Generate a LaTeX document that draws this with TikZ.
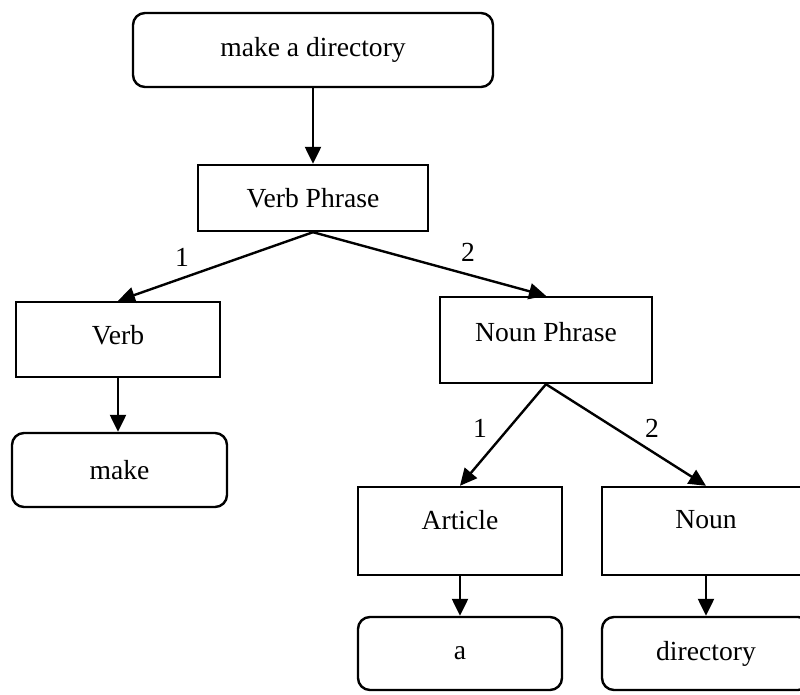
\documentclass[tikz,border=0pt]{standalone}
\usepackage{fontspec}
\setmainfont{Liberation Serif}
\usetikzlibrary{arrows.meta}
\begin{document}
\begin{tikzpicture}[x=0.5pt,y=-0.5pt,
  every node/.style={font=\fontsize{13.8}{16}\selectfont},
  sqbox/.style={draw, line width=1.2pt, inner sep=0pt},
  rbox/.style={sqbox, rounded corners=6pt},
  arr/.style={line width=1.2pt, -{Triangle[length=8.5pt,width=8pt]}},
  numlab/.style={inner sep=0pt}]
\useasboundingbox (0,0) rectangle (800,695);
\node[rbox, minimum width=180pt, minimum height=37pt] (top) at (313,50) {make a directory};
\node[sqbox, minimum width=115pt, minimum height=33pt] (vp) at (313,198) {Verb Phrase};
\node[sqbox, minimum width=102pt, minimum height=37.5pt, label={[yshift=2pt]center:Verb}] (verb) at (118,339.5) {};
\node[rbox, minimum width=107.5pt, minimum height=37pt] (make) at (119.5,470) {make};
\node[sqbox, minimum width=106pt, minimum height=43pt, label={[yshift=4pt]center:Noun Phrase}] (np) at (546,340) {};
\node[sqbox, minimum width=102pt, minimum height=44pt, label={[yshift=5.5pt]center:Article}] (art) at (460,531) {};
\node[sqbox, minimum width=104pt, minimum height=44pt, label={[yshift=5.5pt]center:Noun}] (noun) at (706,531) {};
\node[rbox, minimum width=102pt, minimum height=36.5pt] (a) at (460,653.5) {a};
\node[rbox, minimum width=104pt, minimum height=36.5pt] (dir) at (706,653.5) {directory};
\draw[arr] (top) -- (vp);
\draw[arr] (vp.south) -- (verb.north);
\draw[arr] (vp.south) -- (np.north);
\draw[arr] (verb.south) -- (verb.south |- make.north);
\draw[arr] (np.south) -- (art.north);
\draw[arr] (np.south) -- (noun.north);
\draw[arr] (art) -- (a);
\draw[arr] (noun) -- (dir);
\node[numlab] (l1) at (182,257) {1};
\node[numlab] (l2) at (468,252) {2};
\node[numlab] (l3) at (480,428) {1};
\node[numlab] (l4) at (652,428) {2};
\end{tikzpicture}
\end{document}
